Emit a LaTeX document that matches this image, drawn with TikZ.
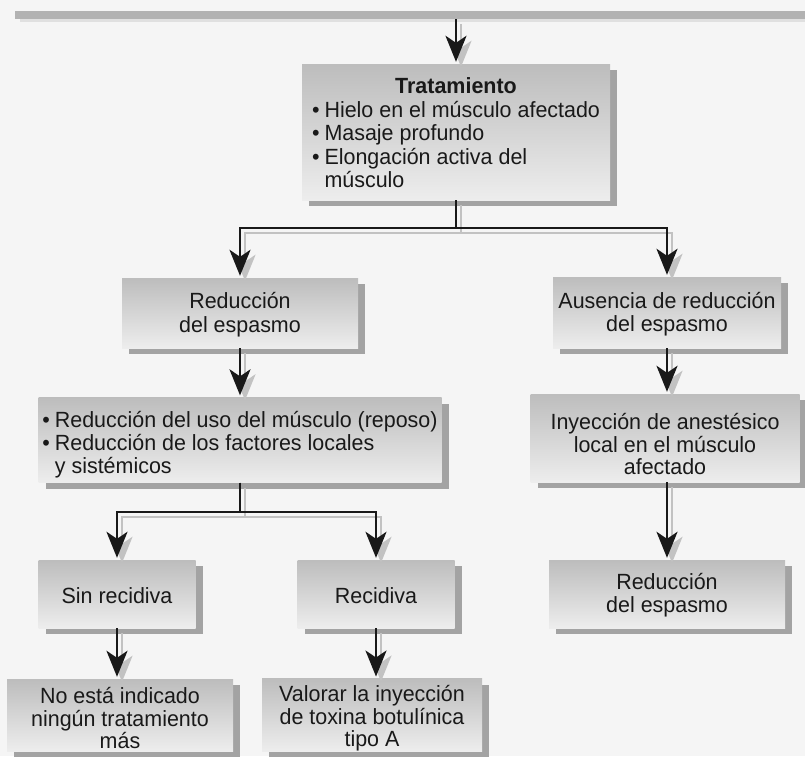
\documentclass[tikz,border=0pt]{standalone}
\usepackage{fontspec}
\setmainfont[FakeStretch=0.975]{Liberation Sans}
\usetikzlibrary{shadows,arrows.meta}
\newcommand\mconn[1]{\draw[connsh] #1; \draw[conn] #1;}
\newcommand\bul{\textbullet}
\newcommand\lowr[1]{\rule{0pt}{#1}}
\begin{document}
\begin{tikzpicture}[x=1pt,y=-1pt,
  box/.style={draw=none, top color=black!26, bottom color=black!7,
    drop shadow={shadow xshift=7pt, shadow yshift=-6pt, fill=black!36, opacity=1},
    inner sep=0pt, align=center, text=black!90,
    font=\fontsize{22}{23.5}\selectfont},
  conn/.style={line width=2.4pt, draw=black!90, shorten >=2pt,
    -{Stealth[length=26pt,width=21pt,inset=7pt]}},
  connsh/.style={conn, draw=black!24, transform canvas={shift={(5pt,-5pt)}}},
]
\fill[black!4] (0,0) rectangle (805,756);
\useasboundingbox (0,0) rectangle (805,756);
% top strip (bottom of previous box)
\fill[black!30] (15,11) rectangle (805,19);
\fill[black!12] (20,19) rectangle (805,22);

\node[box, minimum width=308pt, minimum height=136pt] (trat) at (456,132)
  {\lowr{25pt}\textbf{Tratamiento}\\
   \begin{tabular}[t]{@{}l@{\hspace{5pt}}l@{}}
   \bul & Hielo en el músculo afectado\\
   \bul & Masaje profundo\\
   \bul & Elongación activa del\\
        & músculo
   \end{tabular}};

\node[box, minimum width=236pt, minimum height=70pt] (red1) at (240,313)
  {\lowr{20pt}Reducción\\del espasmo};
\node[box, minimum width=228pt, minimum height=71pt] (aus) at (667,312.5)
  {\lowr{20pt}Ausencia de reducción\\del espasmo};

\node[box, minimum width=403pt, minimum height=85pt] (uso) at (240,440)
  {\renewcommand\arraystretch{0.95}%
   \begin{tabular}{@{}l@{\hspace{5pt}}l@{}}
   \bul & \lowr{28pt}Reducción del uso del músculo (reposo)\\
   \bul & Reducción de los factores locales\\
        & y sistémicos
   \end{tabular}};
\node[box, minimum width=269pt, minimum height=88pt, font=\fontsize{22}{22.5}\selectfont] (iny) at (665,438)
  {\lowr{29pt}Inyección de anestésico\\local en el músculo\\afectado};

\node[box, minimum width=157pt, minimum height=68pt] (sin) at (117,594)
  {\lowr{19pt}Sin recidiva};
\node[box, minimum width=157pt, minimum height=68pt] (rec) at (376,594)
  {\lowr{19pt}Recidiva};
\node[box, minimum width=236pt, minimum height=68pt] (red2) at (667,594)
  {\lowr{19pt}Reducción\\del espasmo};

\node[box, minimum width=226pt, minimum height=72pt, font=\fontsize{22}{22.5}\selectfont] (noesta) at (120,715)
  {\lowr{23pt}No está indicado\\ningún tratamiento\\más};
\node[box, minimum width=220pt, minimum height=72pt, font=\fontsize{22}{22.5}\selectfont] (valorar) at (372,715)
  {\lowr{23pt}Valorar la inyección\\de toxina botulínica\\tipo A};

% connectors
\coordinate (t0) at (456,19);
\coordinate (j1) at (456,228);
\coordinate (j2) at (240,512);
\mconn{(t0) -- (trat.north)}
\mconn{(trat.south) -- (j1) -| (red1.north)}
\mconn{(trat.south) -- (j1) -| (aus.north)}
\mconn{(red1.south) -- (red1.south |- uso.north)}
\mconn{(aus.south) -- (aus.south |- iny.north)}
\mconn{(uso.south) -- (j2) -| (sin.north)}
\mconn{(uso.south) -- (j2) -| (rec.north)}
\mconn{(iny.south -| red2.north) -- (red2.north)}
\mconn{(sin.south) -- (sin.south |- noesta.north)}
\mconn{(rec.south) -- (rec.south |- valorar.north)}
\end{tikzpicture}
\end{document}
